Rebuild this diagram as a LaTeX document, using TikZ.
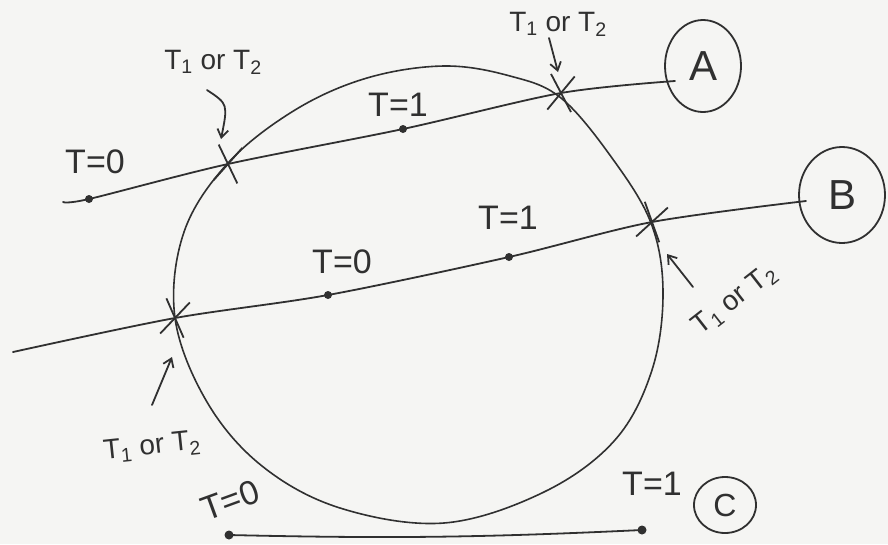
\documentclass[tikz,border=0pt]{standalone}
\usepackage{fontspec}
\setmainfont{Liberation Sans}
\usetikzlibrary{shapes.geometric,shapes.misc,arrows.meta}
\definecolor{inkc}{RGB}{48,48,48}
\definecolor{paper}{RGB}{245,245,243}
\begin{document}
\begin{tikzpicture}[x=1pt,y=-1pt,
  ink/.style={draw=inkc,line width=1.8pt,line cap=round,line join=round},
  dotn/.style={circle,fill=inkc,inner sep=0pt,minimum size=8pt},
  xmark/.style={cross out,draw=inkc,line width=1.8pt,inner sep=0pt,minimum width=22pt,minimum height=34pt},
  lab/.style={text=inkc,inner sep=1pt,font=\fontsize{34}{36}\selectfont},
  tlab/.style={text=inkc,inner sep=1pt,font=\fontsize{28}{30}\selectfont},
  bigl/.style={ellipse,draw=inkc,line width=1.8pt,inner sep=0pt,text=inkc,font=\fontsize{42}{44}\selectfont},
  barb/.style={ink,-{Straight Barb[length=8pt,width=11pt,line width=1.8pt]}}]
\fill[paper] (0,0) rectangle (888,544);
\useasboundingbox (0,0) rectangle (888,544);

% the closed curve
\draw[ink,line width=1.6pt] plot[smooth cycle,tension=0.6] coordinates {
 (444,66) (510,76) (561,98) (612,158) (651,223) (663,292) (652,370)
 (615,440) (544,492) (444,523) (340,508) (262,466) (207,402) (175,318)
 (184,232) (228,163) (295,110) (367,78)};

% circles A, B, C
\node[bigl,minimum width=76pt,minimum height=92pt] (A) at (703,66) {\raisebox{-3pt}{A}};
\node[bigl,minimum width=86pt,minimum height=96pt] (B) at (842,195) {B};
\node[bigl,minimum width=62pt,minimum height=56pt,font=\fontsize{32}{34}\selectfont] (C) at (725,505) {C};

% line A
\coordinate (aL) at (63,202);
\coordinate (aR) at (675,81);
\node[dotn] (a0) at (89,199) {};
\node[xmark,rotate=-8] (ax1) at (228,164) {};
\node[dotn] (a1) at (403,129) {};
\node[xmark,rotate=-6] (ax2) at (561,93) {};
\draw[ink] plot[smooth,tension=0.5] coordinates {(aL) (a0.center) (ax1.center) (a1.center) (ax2.center) (aR)};

% line B
\coordinate (bL) at (13,352);
\coordinate (bR) at (806,201);
\node[xmark,rotate=-10] (bx1) at (175,318) {};
\node[dotn] (b0) at (328,295) {};
\node[dotn] (b1) at (509,257) {};
\node[xmark,rotate=-14] (bx2) at (652,222) {};
\draw[ink] plot[smooth,tension=0.5] coordinates {(bL) (bx1.center) (b0.center) (b1.center) (bx2.center) (bR)};

% line C
\node[dotn,minimum size=9pt] (c0) at (229,535) {};
\node[dotn,minimum size=9pt] (c1) at (642,530) {};
\draw[ink] (c0.center) to[bend right=2] (c1.center);

% T labels
\node[lab] (t0a) at (95,162) {T=0};
\node[lab] (t1a) at (398,105) {T=1};
\node[lab] (t0b) at (342,262) {T=0};
\node[lab] (t1b) at (508,218) {T=1};
\node[lab,rotate=20] (t0c) at (230,500) {T=0};
\node[lab] (t1c) at (652,484) {T=1};

% T1 or T2 labels and arrows
\node[tlab] (or1) at (213,62) {T\textsubscript{1} or T\textsubscript{2}};
\coordinate (p1s) at (207,90);
\coordinate (p1e) at (221,139);
\draw[barb] (p1s) .. controls (228,104) .. (p1e);

\node[tlab] (or2) at (558,24) {T\textsubscript{1} or T\textsubscript{2}};
\coordinate (p2s) at (549,38);
\coordinate (p2e) at (558,72);
\draw[barb] (p2s) -- (p2e);

\node[tlab,rotate=38] (or3) at (735,300) {T\textsubscript{1} or T\textsubscript{2}};
\coordinate (p3s) at (693,287);
\coordinate (p3e) at (667,254);
\draw[barb] (p3s) -- (p3e);

\node[tlab,rotate=6] (or4) at (152,447) {T\textsubscript{1} or T\textsubscript{2}};
\coordinate (p4s) at (152,405);
\coordinate (p4e) at (172,357);
\draw[barb] (p4s) -- (p4e);
\end{tikzpicture}
\end{document}
